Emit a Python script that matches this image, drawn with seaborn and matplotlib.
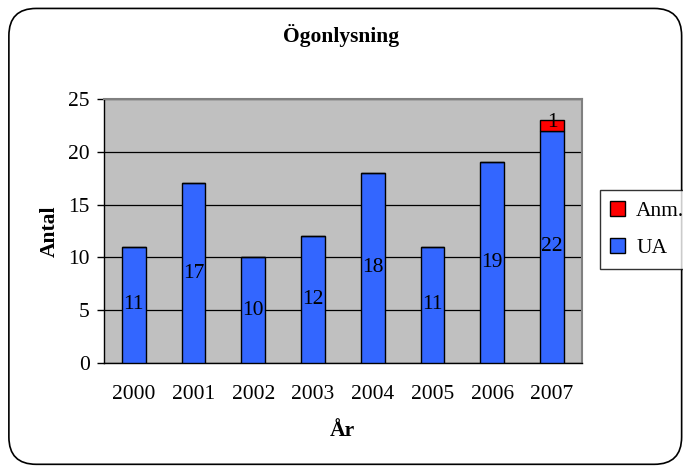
import matplotlib
matplotlib.use("Agg")
import matplotlib.pyplot as plt
import seaborn as sns
import pandas as pd
from matplotlib.patches import FancyBboxPatch, Patch

# Data
years = ["2000", "2001", "2002", "2003", "2004", "2005", "2006", "2007"]
ua = [11, 17, 10, 12, 18, 11, 19, 22]
anm = [0, 0, 0, 0, 0, 0, 0, 1]

df = pd.DataFrame({"Ar": years, "UA": ua, "Anm": anm})

sns.set_style("white")
plt.rcParams["font.family"] = ["Liberation Serif", "DejaVu Serif"]
plt.rcParams["text.color"] = "black"
plt.rcParams["xtick.color"] = "black"
plt.rcParams["ytick.color"] = "black"
plt.rcParams["axes.labelcolor"] = "black"

fs = 15.5

fig = plt.figure(figsize=(6.83, 4.69), dpi=100)
ax = fig.add_axes([0.152, 0.226, 0.700, 0.563])

# rounded frame around whole chart
frame = FancyBboxPatch((0.013, 0.01), 0.985, 0.972, boxstyle="round,pad=0,rounding_size=0.04",
                       transform=fig.transFigure, fill=False, edgecolor="black", linewidth=1.2,
                       mutation_aspect=683 / 469)
fig.patches.append(frame)

ax.set_facecolor("#c0c0c0")
blue = "#3366ff"
red = "#ff0000"

sns.barplot(data=df, x="Ar", y="UA", color=blue, width=0.4, edgecolor="black",
            linewidth=1.0, saturation=1, ax=ax, zorder=3)
sns.barplot(data=df, x="Ar", y="Anm", color=red, width=0.4, edgecolor="black",
            linewidth=1.0, saturation=1, ax=ax, bottom=df["UA"], zorder=3)

# value labels
for i, (u, a) in enumerate(zip(ua, anm)):
    ax.text(i, u / 2, str(u), ha="center", va="center", fontsize=fs, zorder=4)
    if a > 0:
        ax.text(i, u + a / 2 + 0.3, str(a), ha="center", va="center", fontsize=fs, zorder=4)

ax.set_ylim(0, 25)
ax.set_xlim(-0.5, len(years) - 0.5)
ax.set_yticks([0, 5, 10, 15, 20, 25])
ax.yaxis.grid(True, color="black", linewidth=0.9, zorder=1)
ax.set_axisbelow(True)

ax.set_xticks(range(len(years)))
ax.set_xticklabels(years)
ax.set_xticks([i - 0.5 for i in range(len(years) + 1)], minor=True)
ax.tick_params(axis="x", which="major", length=0, labelsize=fs, pad=16)
ax.tick_params(axis="x", which="minor", length=5, direction="out", width=1)
ax.tick_params(axis="y", length=5, direction="out", width=1, labelsize=fs, left=True, pad=5)

for s in ["left", "bottom"]:
    ax.spines[s].set_color("black")
    ax.spines[s].set_linewidth(1)
for s in ["top", "right"]:
    ax.spines[s].set_color("#808080")
    ax.spines[s].set_linewidth(1.5)

ax.set_xlabel("År", fontsize=fs, fontweight="bold", labelpad=12)
ax.set_ylabel("Antal", fontsize=fs, fontweight="bold", labelpad=6)
fig.text(0.5, 0.925, "Ögonlysning", ha="center", va="center", fontsize=fs, fontweight="bold")

handles = [Patch(facecolor=red, edgecolor="black"), Patch(facecolor=blue, edgecolor="black")]
fig.legend(handles, ["Anm.", "UA"], loc="center left", bbox_to_anchor=(0.862, 0.51),
           frameon=True, fancybox=False, edgecolor="black", fontsize=fs,
           handlelength=0.7, handleheight=0.7, labelspacing=0.8, borderpad=0.5,
           handletextpad=0.5)

fig.savefig("out.png", dpi=100)
